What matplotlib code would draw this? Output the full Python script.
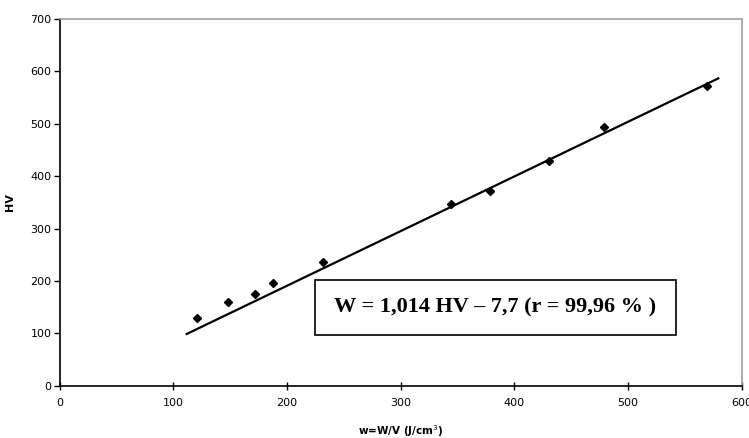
import matplotlib.pyplot as plt
from matplotlib.patches import Rectangle

# measured points: w (J/cm3) vs HV
w_vals = [120.5, 148.3, 171.8, 187.4, 231.4, 344.6, 378.6, 430.2, 479.1, 569.2]
hv_vals = [128.6, 160.3, 175.0, 195.4, 235.5, 347.7, 372.1, 428.8, 493.7, 572.5]

# fitted line as drawn in the chart
line_w = [111.7, 579.4]
line_hv = [98.7, 586.6]

x_ticks = [0, 100, 200, 300, 400, 500, 600]
y_ticks = [0, 100, 200, 300, 400, 500, 600, 700]

fig = plt.figure(figsize=(7.49, 4.38), dpi=100)
ax = fig.add_axes([0.0797, 0.1194, 0.9105, 0.8372])

ax.plot(line_w, line_hv, color='black', lw=1.6, zorder=2)
ax.plot(w_vals, hv_vals, 'D', color='black', markersize=4.5, zorder=3)

ax.set_xlim(0, 600)
ax.set_ylim(0, 700)
ax.set_xticks(x_ticks)
ax.set_yticks(y_ticks)
ax.tick_params(axis='x', direction='inout', length=6, width=1, labelsize=8, pad=6)
ax.tick_params(axis='y', direction='out', length=4, width=1, labelsize=8, pad=2)

for s in ['left', 'bottom']:
    ax.spines[s].set_color('black')
    ax.spines[s].set_linewidth(1.2)
for s in ['top', 'right']:
    ax.spines[s].set_color('#a0a0a0')
    ax.spines[s].set_linewidth(1.2)

ax.set_ylabel('HV', fontsize=8, fontweight='bold')
ax.yaxis.set_label_coords(-0.066, 0.5)
ax.set_xlabel('w=W/V (J/cm$^3$)', fontsize=7.5, fontweight='bold', labelpad=11)

# equation box
box = Rectangle((315 / 749, (438 - 335) / 438), (676 - 315) / 749, 55 / 438,
                transform=fig.transFigure, facecolor='white', edgecolor='black',
                lw=1.2, zorder=4)
fig.patches.append(box)
fig.text((315 + 676) / 2 / 749, (438 - 307.5) / 438,
         'W = 1,014 HV \u2013 7,7 (r = 99,96 % )',
         family='Liberation Serif', fontweight='bold', fontsize=16,
         ha='center', va='center', zorder=5)

fig.savefig('out.png', dpi=100)
